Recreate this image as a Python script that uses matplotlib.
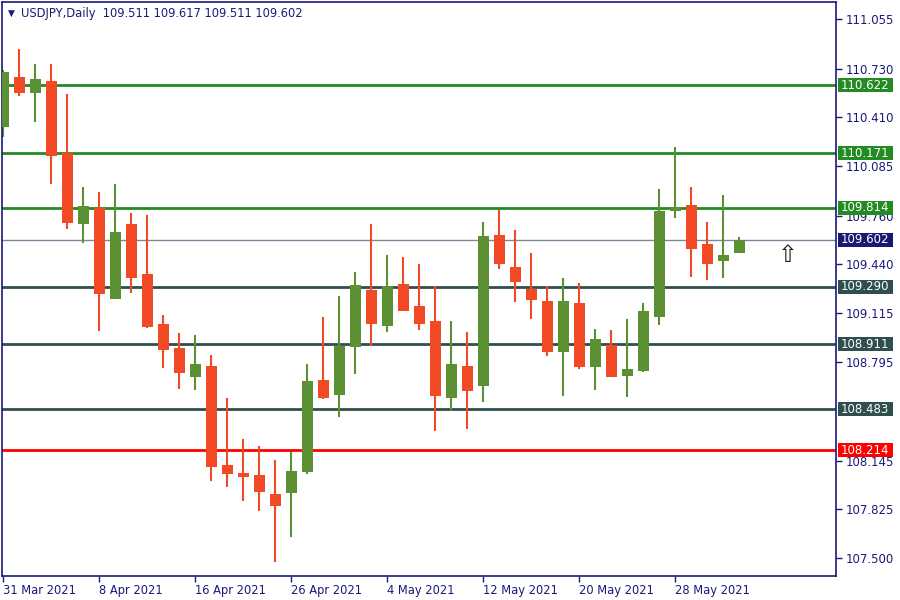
import matplotlib
matplotlib.use("Agg")
import matplotlib.pyplot as plt
import matplotlib.transforms as mtransforms
from matplotlib.patches import Rectangle

# ---------------- data ----------------
opens  = [110.347, 110.675, 110.571, 110.648, 110.175, 109.707, 109.811, 109.212, 109.705, 109.375,
          109.045, 108.887, 108.698, 108.768, 108.115, 108.062, 108.049, 107.924, 107.932, 108.069,
          108.676, 108.579, 108.896, 109.270, 109.034, 109.309, 109.164, 109.065, 108.559, 108.768,
          108.638, 109.632, 109.421, 109.276, 109.197, 108.863, 109.184, 108.764, 108.907, 108.704,
          108.737, 109.094, 109.793, 109.830, 109.573, 109.463, 109.511]
highs  = [110.720, 110.860, 110.761, 110.761, 110.563, 109.949, 109.916, 109.969, 109.778, 109.764,
          109.105, 108.986, 108.973, 108.841, 108.557, 108.287, 108.240, 108.148, 108.201, 108.781,
          109.092, 109.228, 109.388, 109.705, 109.500, 109.487, 109.441, 109.296, 109.065, 108.993,
          109.718, 109.797, 109.665, 109.514, 109.298, 109.349, 109.314, 109.012, 109.006, 109.078,
          109.184, 109.936, 110.213, 109.949, 109.718, 109.896, 109.617]
lows   = [110.281, 110.551, 110.380, 109.971, 109.674, 109.582, 109.001, 109.210, 109.252, 109.021,
          108.757, 108.619, 108.612, 108.012, 107.972, 107.880, 107.814, 107.477, 107.642, 108.056,
          108.551, 108.434, 108.717, 108.902, 108.994, 109.133, 109.008, 108.341, 108.473, 108.355,
          108.533, 109.410, 109.192, 109.080, 108.836, 108.572, 108.750, 108.612, 108.698, 108.566,
          108.727, 109.039, 109.747, 109.357, 109.338, 109.351, 109.511]
closes = [110.708, 110.571, 110.662, 110.156, 109.714, 109.826, 109.245, 109.652, 109.351, 109.028,
          108.876, 108.724, 108.781, 108.104, 108.058, 108.038, 107.939, 107.847, 108.076, 108.669,
          108.559, 108.900, 109.301, 109.047, 109.296, 109.133, 109.047, 108.572, 108.781, 108.605,
          109.626, 109.443, 109.324, 109.206, 108.863, 109.197, 108.764, 108.946, 108.698, 108.748,
          109.131, 109.791, 109.819, 109.542, 109.443, 109.500, 109.602]

date_ticks = [0, 6, 12, 18, 24, 30, 36, 42]
date_labels = ["31 Mar 2021", "8 Apr 2021", "16 Apr 2021", "26 Apr 2021",
               "4 May 2021", "12 May 2021", "20 May 2021", "28 May 2021"]

price_ticks = [111.055, 110.730, 110.410, 110.085, 109.760, 109.440, 109.115,
               108.795, 108.145, 107.825, 107.500]

level_values = [110.622, 110.171, 109.814, 109.290, 108.911, 108.483, 108.214]
level_colors = ["#228B22", "#228B22", "#228B22", "#2F4F4F", "#2F4F4F", "#2F4F4F", "#FF0000"]

current_price = 109.602
title_text = "USDJPY,Daily  109.511 109.617 109.511 109.602"
arrow_pos = (49.0, 109.50)

# ---------------- style ----------------
NAVY = "#1a1a78"
UP = "#5B9132"
DOWN = "#F24A24"
plt.rcParams["font.family"] = ["DejaVu Sans"]

fig = plt.figure(figsize=(9, 6), dpi=100)
ax = fig.add_axes([2 / 900, 24 / 600, 834 / 900, 574 / 600])
ax.set_xlim(-0.08, 52.04)
ax.set_ylim(107.383, 111.170)

# horizontal levels
for v, c in zip(level_values, level_colors):
    ax.axhline(v, color=c, lw=2.0, zorder=1)
ax.axhline(current_price, color="#778899", lw=1.0, zorder=1)

# candles
bw = 0.69
for i, (o, h, l, c) in enumerate(zip(opens, highs, lows, closes)):
    col = UP if c >= o else DOWN
    ax.vlines(i, l, h, color=col, lw=1.5, zorder=2)
    lo, hi = min(o, c), max(o, c)
    ax.add_patch(Rectangle((i - bw / 2, lo), bw, max(hi - lo, 0.004),
                           facecolor=col, edgecolor="none", zorder=3))

# arrow glyph
ax.text(arrow_pos[0], arrow_pos[1], "\u21e7", fontsize=17, color="#202020",
        ha="center", va="center", zorder=4)

# axes styling
for s in ax.spines.values():
    s.set_color(NAVY)
    s.set_linewidth(1.2)
ax.yaxis.tick_right()
ax.set_yticks(price_ticks)
ax.set_yticklabels([f"{t:.3f}" for t in price_ticks])
ax.tick_params(axis="y", colors=NAVY, labelcolor=NAVY, length=4, width=1,
               labelsize=8.5, pad=3, direction="out")
ax.set_xticks(date_ticks)
ax.set_xticklabels(date_labels)
ax.tick_params(axis="x", colors=NAVY, labelcolor=NAVY, length=4, width=1,
               labelsize=8.3, pad=2, direction="out")
for lab in ax.get_xticklabels():
    lab.set_ha("left")

# level labels on the right (fixed-width boxes)
ppx = (111.170 - 107.383) / 574.0  # price per pixel
box_h = 14 * ppx
btrans = mtransforms.blended_transform_factory(fig.transFigure, ax.transData)
for v, c in list(zip(level_values, level_colors)) + [(current_price, "#191970")]:
    ax.add_patch(Rectangle((838 / 900, v - box_h / 2), 55 / 900, box_h,
                           transform=btrans, facecolor=c, edgecolor="none",
                           zorder=9, clip_on=False))
    ax.text(841 / 900, v, f"{v:.3f}", transform=btrans, fontsize=8.5, color="white",
            ha="left", va="center", zorder=10, clip_on=False)

# title
fig.text(8 / 900, 1 - 13 / 600, "\u25bc", fontsize=6.5, color=NAVY, ha="left", va="center")
fig.text(21 / 900, 1 - 13 / 600, title_text, fontsize=8.3, color=NAVY, ha="left", va="center")

fig.savefig("out.png", dpi=100, facecolor="white")
